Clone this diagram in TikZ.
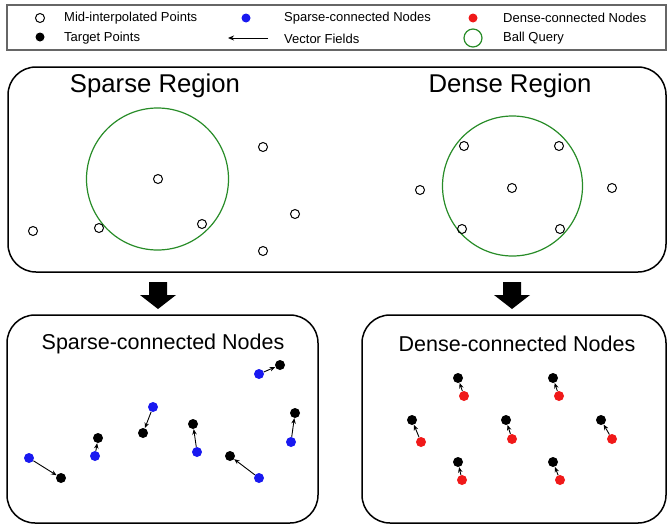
\documentclass[tikz,border=0pt]{standalone}
\usepackage{fontspec}
\setmainfont{Liberation Sans}
\usetikzlibrary{arrows.meta}
\definecolor{bqgreen}{RGB}{40,140,40}
\definecolor{sblue}{RGB}{25,25,240}
\definecolor{dred}{RGB}{240,25,25}
\begin{document}
\begin{tikzpicture}[x=1pt,y=-1pt,
  mid/.style={circle,draw=black,line width=1pt,inner sep=0pt,minimum size=9pt},
  tgt/.style={circle,fill=black,inner sep=0pt,minimum size=10pt},
  sps/.style={circle,fill=sblue,inner sep=0pt,minimum size=10pt},
  dns/.style={circle,fill=dred,inner sep=0pt,minimum size=10pt},
  vec/.style={-{Stealth[length=5.5pt,width=4.5pt]},line width=0.9pt},
  region/.style={draw,line width=1.5pt,rounded corners=28pt},
  ballq/.style={draw=bqgreen,line width=1.2pt},
  legtxt/.style={anchor=west,font=\fontsize{13}{15}\selectfont,inner sep=0pt},
  bigtitle/.style={font=\fontsize{25.7}{30}\selectfont,inner sep=0pt},
  midtitle/.style={font=\fontsize{21.5}{26}\selectfont,inner sep=0pt},
  blockarrow/.style={fill=black}
]
\useasboundingbox (0,0) rectangle (668,525);

% ---------------- legend ----------------
\node[draw=black!60,line width=1.6pt,minimum width=659pt,minimum height=45pt,inner sep=0pt] (legend) at (336.5,27.5) {};
\node[mid] (lmid) at (40,18) {};
\node[legtxt] (lmidt) at (64,18) {Mid-interpolated Points};
\node[tgt,minimum size=9pt] (ltgt) at (40,37) {};
\node[legtxt] (ltgtt) at (64,38) {Target Points};
\node[sps,minimum size=9pt] (lsps) at (246,18) {};
\node[legtxt] (lspst) at (284,18) {Sparse-connected Nodes};
\coordinate (la1) at (268,38);
\coordinate (la2) at (228,38);
\draw[-{Stealth[length=6pt,width=5pt]},line width=1pt] (la1) -- (la2);
\node[legtxt] (lvect) at (284,39) {Vector Fields};
\node[dns,minimum size=9pt] (ldns) at (473,18) {};
\node[legtxt] (ldnst) at (503,18) {Dense-connected Nodes};
\node[circle,ballq,minimum size=18pt,inner sep=0pt] (lbq) at (473,38) {};
\node[legtxt] (lbqt) at (503,38) {Ball Query};

% ---------------- top region ----------------
\draw[region] (8,67) rectangle (666,272);
\node[bigtitle] (tS) at (155,86) {Sparse Region};
\node[bigtitle] (tD) at (510,86) {Dense Region};

\node[circle,ballq,minimum size=142pt,inner sep=0pt] (bqS) at (157.5,179) {};
\node[circle,ballq,minimum size=140pt,inner sep=0pt] (bqD) at (512.5,186) {};

\node[mid] (s1) at (33,231) {};
\node[mid] (s2) at (99,228) {};
\node[mid] (s3) at (158,179) {};
\node[mid] (s4) at (202,224) {};
\node[mid] (s5) at (263,147) {};
\node[mid] (s6) at (295,214) {};
\node[mid] (s7) at (263,251) {};

\node[mid] (d1) at (464,146) {};
\node[mid] (d2) at (559,146) {};
\node[mid] (d3) at (420,190) {};
\node[mid] (d4) at (512,188) {};
\node[mid] (d5) at (612,188) {};
\node[mid] (d6) at (462,229) {};
\node[mid] (d7) at (560,229) {};

% ---------------- block arrows ----------------
\fill[blockarrow] (149,282) -- (167,282) -- (167,295) -- (176,295) -- (158,309) -- (140,295) -- (149,295) -- cycle;
\fill[blockarrow] (503,282) -- (521,282) -- (521,295) -- (530,295) -- (512,309) -- (494,295) -- (503,295) -- cycle;

% ---------------- bottom left ----------------
\draw[region] (7,315) rectangle (318,523);
\node[midtitle] (tSC) at (163,344) {Sparse-connected Nodes};

\node[sps] (b1) at (29,458) {};  \node[tgt] (k1) at (61,478) {};
\node[sps] (b2) at (95,456) {};  \node[tgt] (k2) at (98,438) {};
\node[sps] (b3) at (153,407) {}; \node[tgt] (k3) at (143,433) {};
\node[sps] (b4) at (197,452) {}; \node[tgt] (k4) at (193,424) {};
\node[sps] (b5) at (259,478) {}; \node[tgt] (k5) at (230,456) {};
\node[sps] (b6) at (259,374) {}; \node[tgt] (k6) at (280,365) {};
\node[sps] (b7) at (291,442) {}; \node[tgt] (k7) at (295,413) {};
\foreach \i in {1,...,7} { \draw[vec] (b\i) -- (k\i); }

% ---------------- bottom right ----------------
\draw[region] (362,315) rectangle (666,523);
\node[midtitle] (tDC) at (517,344) {Dense-connected Nodes};

\node[dns] (r1) at (464,396) {}; \node[tgt] (q1) at (458,378) {};
\node[dns] (r2) at (559,396) {}; \node[tgt] (q2) at (553,378) {};
\node[dns] (r3) at (421,442) {}; \node[tgt] (q3) at (412,420) {};
\node[dns] (r4) at (512,439) {}; \node[tgt] (q4) at (506,420) {};
\node[dns] (r5) at (612,439) {}; \node[tgt] (q5) at (601,420) {};
\node[dns] (r6) at (462,480) {}; \node[tgt] (q6) at (458,462) {};
\node[dns] (r7) at (560,480) {}; \node[tgt] (q7) at (553,462) {};
\foreach \i in {1,...,7} { \draw[vec] (r\i) -- (q\i); }
\end{tikzpicture}
\end{document}
